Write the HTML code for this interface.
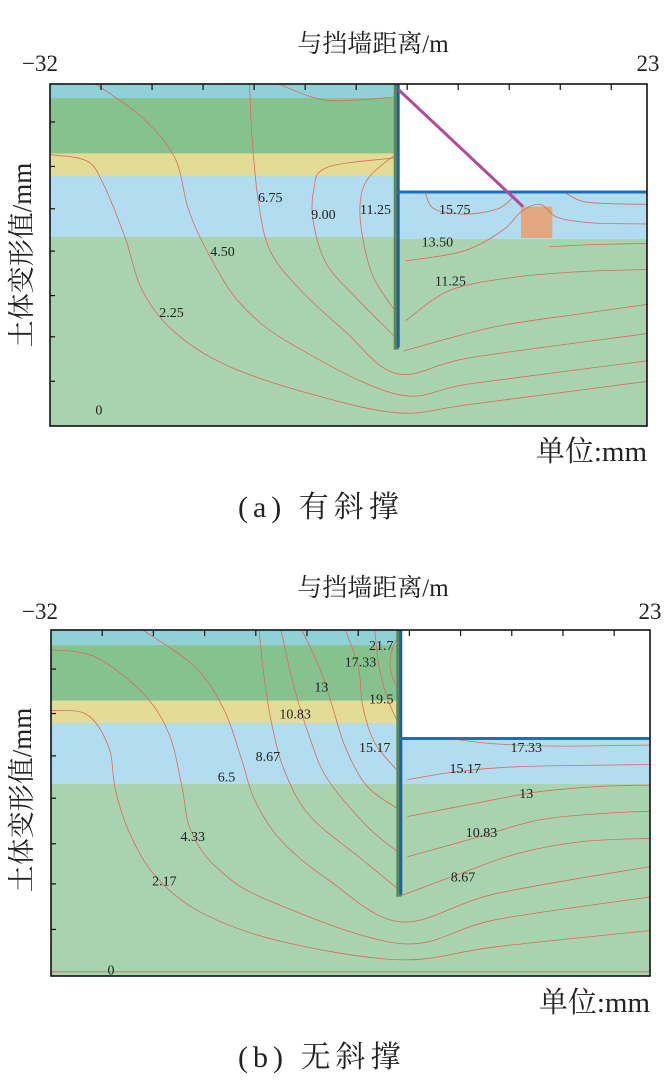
<!DOCTYPE html>
<html><head><meta charset="utf-8">
<style>
html,body{margin:0;padding:0;background:#fff;}
body{width:669px;height:1089px;position:relative;overflow:hidden;font-family:"Liberation Serif","Noto Serif CJK SC",serif;}
svg{position:absolute;left:0;top:0;}
</style></head>
<body>
<svg id="fig" width="669" height="1089" viewBox="0 0 669 1089">
  <g font-family="Liberation Serif, Noto Serif CJK SC, serif" fill="#222">
    <text x="373" y="52" font-size="25" text-anchor="middle">与挡墙距离/m</text>
    <text x="40" y="71" font-size="23" text-anchor="middle">−32</text>
    <text x="648" y="71" font-size="23" text-anchor="middle">23</text>
    <text transform="translate(31,255) rotate(-90)" font-size="27" text-anchor="middle">土体变形值/mm</text>
    <text x="647" y="461" font-size="29" text-anchor="end">单位:mm</text>
    <text x="238" y="517" font-size="30" letter-spacing="5">(a) 有斜撑</text>
  </g>
  <g font-family="Liberation Serif, Noto Serif CJK SC, serif" fill="#222">
    <text x="373" y="596" font-size="25" text-anchor="middle">与挡墙距离/m</text>
    <text x="40" y="619" font-size="23" text-anchor="middle">−32</text>
    <text x="650" y="619" font-size="23" text-anchor="middle">23</text>
    <text transform="translate(31,800) rotate(-90)" font-size="27" text-anchor="middle">土体变形值/mm</text>
    <text x="650" y="1012" font-size="29" text-anchor="end">单位:mm</text>
    <text x="238" y="1067" font-size="30" letter-spacing="5">(b) 无斜撑</text>
  </g>
  <g id="pa"></g>
  <g id="pb"></g>
</svg>
<script>
// ---- Panel A data (x in m, depth in m) ----
const aContours = [
 [[-32,6.5],[-28.6,7.1],[-27.1,9.2],[-25.1,14.1],[-23.5,19],[-20.7,22.7],[-16,25.8],[-8.9,28.3],[0,30.3],[6.9,29.5],[23.1,27.4]],
 [[-27.8,0],[-23.5,3.1],[-20.5,6.8],[-19.2,11.7],[-17.2,16],[-14.4,20.3],[-9.7,24],[0,28.6],[6.9,27.6],[23.1,25.5]],
 [[-13.6,0],[-13.4,4.6],[-12.8,10.8],[-11.7,15.4],[-8.9,19],[-4.9,22.7],[0,26.7],[6.9,25.2],[23.1,23]],
 [[-0.2,6.8],[-6.5,7.7],[-7.7,9.8],[-7.7,12.9],[-6.5,16.6],[-3.8,19.7],[-0.2,23.3]],
 [[-0.2,6.5],[-2.6,8.6],[-3.4,10.8],[-3.2,14.1],[-2.2,17.8],[-0.2,20.9]],
 [[-10.9,0],[-6.5,1.5],[-0.2,1.2]],
 [[2.6,10.1],[3.4,11.5],[6.1,12],[9.3,11.5],[10.9,10.2]],
 [[15.6,10.1],[17.6,10.9],[23.1,11.1]],
 [[0.8,16.3],[6.1,15.4],[9.7,13.5],[11.5,11.7],[13.2,11.1],[14.8,12.3],[18,12.8],[23.1,12.9]],
 [[14,15],[18,14.8],[23.1,14.7]],
 [[0.8,21.8],[4.9,19],[10.9,17.8],[16.8,17.3],[23.1,17.1]],
 [[0.6,24.6],[8.9,22.4],[16.8,21.2],[23.1,20.3]]
];
const aLabelText = ["6.75","9.00","11.25","15.75","13.50","11.25","4.50","2.25","0"];
const aLabelX = [-11.7,-6.8,-2,5.3,3.7,4.9,-16.1,-20.8,-27.5];
const aLabelY = [10.4,12,11.5,11.5,14.5,18.1,15.4,21,30];
// ---- Panel B data ----
const bContours = [
 [[-32,7.4],[-28.7,7.8],[-26.7,10.8],[-26.1,14.7],[-24.8,18.7],[-22.4,22.7],[-18.1,26.1],[-10.9,28.7],[0.1,30.4],[8.8,29.2],[23,27.7]],
 [[-32,1.8],[-27.9,2.5],[-23.6,5.8],[-21.2,9.5],[-20,14.4],[-19.2,18.4],[-16.9,21.8],[-12.1,24.9],[0.1,28.9],[8.8,26.7],[23,24.6]],
 [[-23.6,0],[-18.8,3.4],[-16.1,7.4],[-14.5,12],[-13.3,15.7],[-10.9,19.4],[-6.6,23],[0.1,26.9],[8.8,24.3],[23,21.8]],
 [[-12.9,0],[-12.5,4],[-11.7,8.9],[-10.5,13.2],[-8.2,17.2],[-3.4,21.2],[0,24]],
 [[-10.9,0],[-9.8,4.9],[-8.2,10.1],[-6.6,13.8],[-3,18.1],[0,20.6]],
 [[-9,0],[-7.4,3.4],[-6.2,7],[-5,10.8],[-3,14.4],[0,16.6]],
 [[-5,0],[-3.8,3.4],[-3.4,7],[-2.3,10.4],[0,13.2]],
 [[-2.3,0],[-1.9,3.4],[-1.1,6.4],[0,8.9]],
 [[0,0.3],[-0.7,1.8],[-0.9,3.4],[-0.5,4.8],[0,5.4]],
 [[0.1,24.5],[4.9,22.7],[10.8,20.6],[16.7,19.5],[23,19.2]],
 [[0.7,20.9],[6.8,19.2],[12.8,17.5],[18.7,16.9],[23,16.7]],
 [[0.7,17.2],[6.8,16],[12.8,14.9],[18.7,14.4],[23,14.3]],
 [[0.7,13.8],[4.9,13.1],[10.8,12.6],[23,12.4]],
 [[5.3,10.1],[8.8,10.5],[14.7,10.7],[23,10.6]],
 [[-32,31.5],[23,31.5]]
];
const bLabelText = ["21.7","17.33","13","19.5","10.83","15.17","8.67","6.5","4.33","2.17","0","17.33","15.17","13","10.83","8.67"];
const bLabelX = [-1.7,-3.6,-7.2,-1.7,-9.6,-2.3,-12.1,-15.9,-19,-21.6,-26.5,11.6,6,11.6,7.5,5.8];
const bLabelY = [1.4,2.9,5.2,6.3,7.7,10.8,11.6,13.5,19,23.1,31.3,10.8,12.7,15,18.6,22.7];

const NS="http://www.w3.org/2000/svg";
function mk(tag,attrs,parent){const e=document.createElementNS(NS,tag);for(const k in attrs)e.setAttribute(k,attrs[k]);parent.appendChild(e);return e;}
function smooth(pts){let d="M"+pts[0][0].toFixed(1)+","+pts[0][1].toFixed(1);
 for(let i=0;i<pts.length-1;i++){const p0=pts[Math.max(0,i-1)],p1=pts[i],p2=pts[i+1],p3=pts[Math.min(pts.length-1,i+2)];
  const c1=[p1[0]+(p2[0]-p0[0])/6,p1[1]+(p2[1]-p0[1])/6],c2=[p2[0]-(p3[0]-p1[0])/6,p2[1]-(p3[1]-p1[1])/6];
  d+=" C"+c1.map(v=>v.toFixed(1)).join(",")+" "+c2.map(v=>v.toFixed(1)).join(",")+" "+p2.map(v=>v.toFixed(1)).join(",");}
 return d;}

function panel(g,cfg){
 const sx=m=>cfg.x0+(m+32)*cfg.kx, sy=d=>cfg.y0+d*cfg.ky;
 const L=cfg.x0,R=cfg.x1,T=cfg.y0,B=cfg.y1,W=sx(0);
 let e;
 e=mk('rect',{x:L,y:T,width:R-L,height:B-T,fill:'#a9d2ae'},g);  
 const layers=[[0,cfg.l1,'#8fd1d6'],[cfg.l1,cfg.l2,'#86c28e'],[cfg.l2,cfg.l3,'#e3dc96'],[cfg.l3,cfg.l4,'#b2dcf0']];
 layers.forEach((ly,i)=>{e=mk('rect',{x:L,y:sy(ly[0]),width:W-L,height:sy(ly[1])-sy(ly[0]),fill:ly[2]},g);
   });
 e=mk('rect',{x:W,y:T,width:R-W,height:sy(cfg.exc)-T,fill:'#ffffff'},g);  
 e=mk('rect',{x:W,y:sy(cfg.exc),width:R-W,height:sy(cfg.l4r)-sy(cfg.exc),fill:'#b2dcf0'},g);  
 if(cfg.box){e=mk('rect',{x:sx(cfg.box[0]),y:sy(cfg.box[1]),width:sx(cfg.box[2])-sx(cfg.box[0]),height:sy(cfg.box[3])-sy(cfg.box[1]),fill:'#e1a77e'},g);
   }
 cfg.contours.forEach(c=>{e=mk('path',{d:smooth(c.map(p=>[sx(p[0]),sy(p[1])])),fill:'none',stroke:'#dc6a5c','stroke-width':0.8},g);
   });
 e=mk('line',{x1:W-1,y1:T,x2:W-1,y2:sy(cfg.wall)+2,stroke:'#5a8a55','stroke-width':5},g);  
 e=mk('line',{x1:W+1,y1:T,x2:W+1,y2:sy(cfg.wall),stroke:'#1f5fa8','stroke-width':3},g);  
 e=mk('line',{x1:W,y1:sy(cfg.exc),x2:R,y2:sy(cfg.exc),stroke:'#1f6fb8','stroke-width':3},g);  
 if(cfg.strut){e=mk('line',{x1:sx(cfg.strut[0]),y1:sy(cfg.strut[1]),x2:sx(cfg.strut[2]),y2:sy(cfg.strut[3]),stroke:'#b04a9e','stroke-width':3},g);
   }
 cfg.lt.forEach((t,i)=>{e=mk('text',{x:sx(cfg.lx[i]),y:sy(cfg.ly[i])+5,'font-size':14,'text-anchor':'middle',fill:'#222','font-family':'Liberation Serif, serif'},g);
  e.textContent=t;  });
 for(let i=1;i<=11;i++){const x=L+(R-L)*i/11.7;e=mk('line',{x1:x,y1:T,x2:x,y2:T+6,stroke:'#111','stroke-width':1.2},g);
   }
 cfg.yt.forEach(d=>{e=mk('line',{x1:L,y1:sy(d),x2:L+5,y2:sy(d),stroke:'#111','stroke-width':1.2},g);
   });
 e=mk('rect',{x:L,y:T,width:R-L,height:B-T,fill:'none',stroke:'#111','stroke-width':1.6},g);  
}
panel(document.getElementById('pa'),{x0:50,x1:647,y0:84,y1:426,kx:10.85,ky:10.85,l1:1.3,l2:6.4,l3:8.5,l4:14.1,l4r:14.3,exc:9.95,wall:24.3,
 box:[11.4,11.3,14.3,14.2],strut:[0.1,0.5,11.6,11.3],contours:aContours,lt:aLabelText,lx:aLabelX,ly:aLabelY,yt:[3.5,7.6,11.5,15.4,19.5,23.3,27.4]});
panel(document.getElementById('pb'),{x0:51,x1:650,y0:630,y1:976,kx:10.9,ky:10.85,l1:1.4,l2:6.5,l3:8.6,l4:14.2,l4r:14.2,exc:10.0,wall:24.4,
 box:null,strut:null,contours:bContours,lt:bLabelText,lx:bLabelX,ly:bLabelY,yt:[3.6,7.7,11.6,15.5,19.7,23.4,27.6]});
</script>
</body></html>
